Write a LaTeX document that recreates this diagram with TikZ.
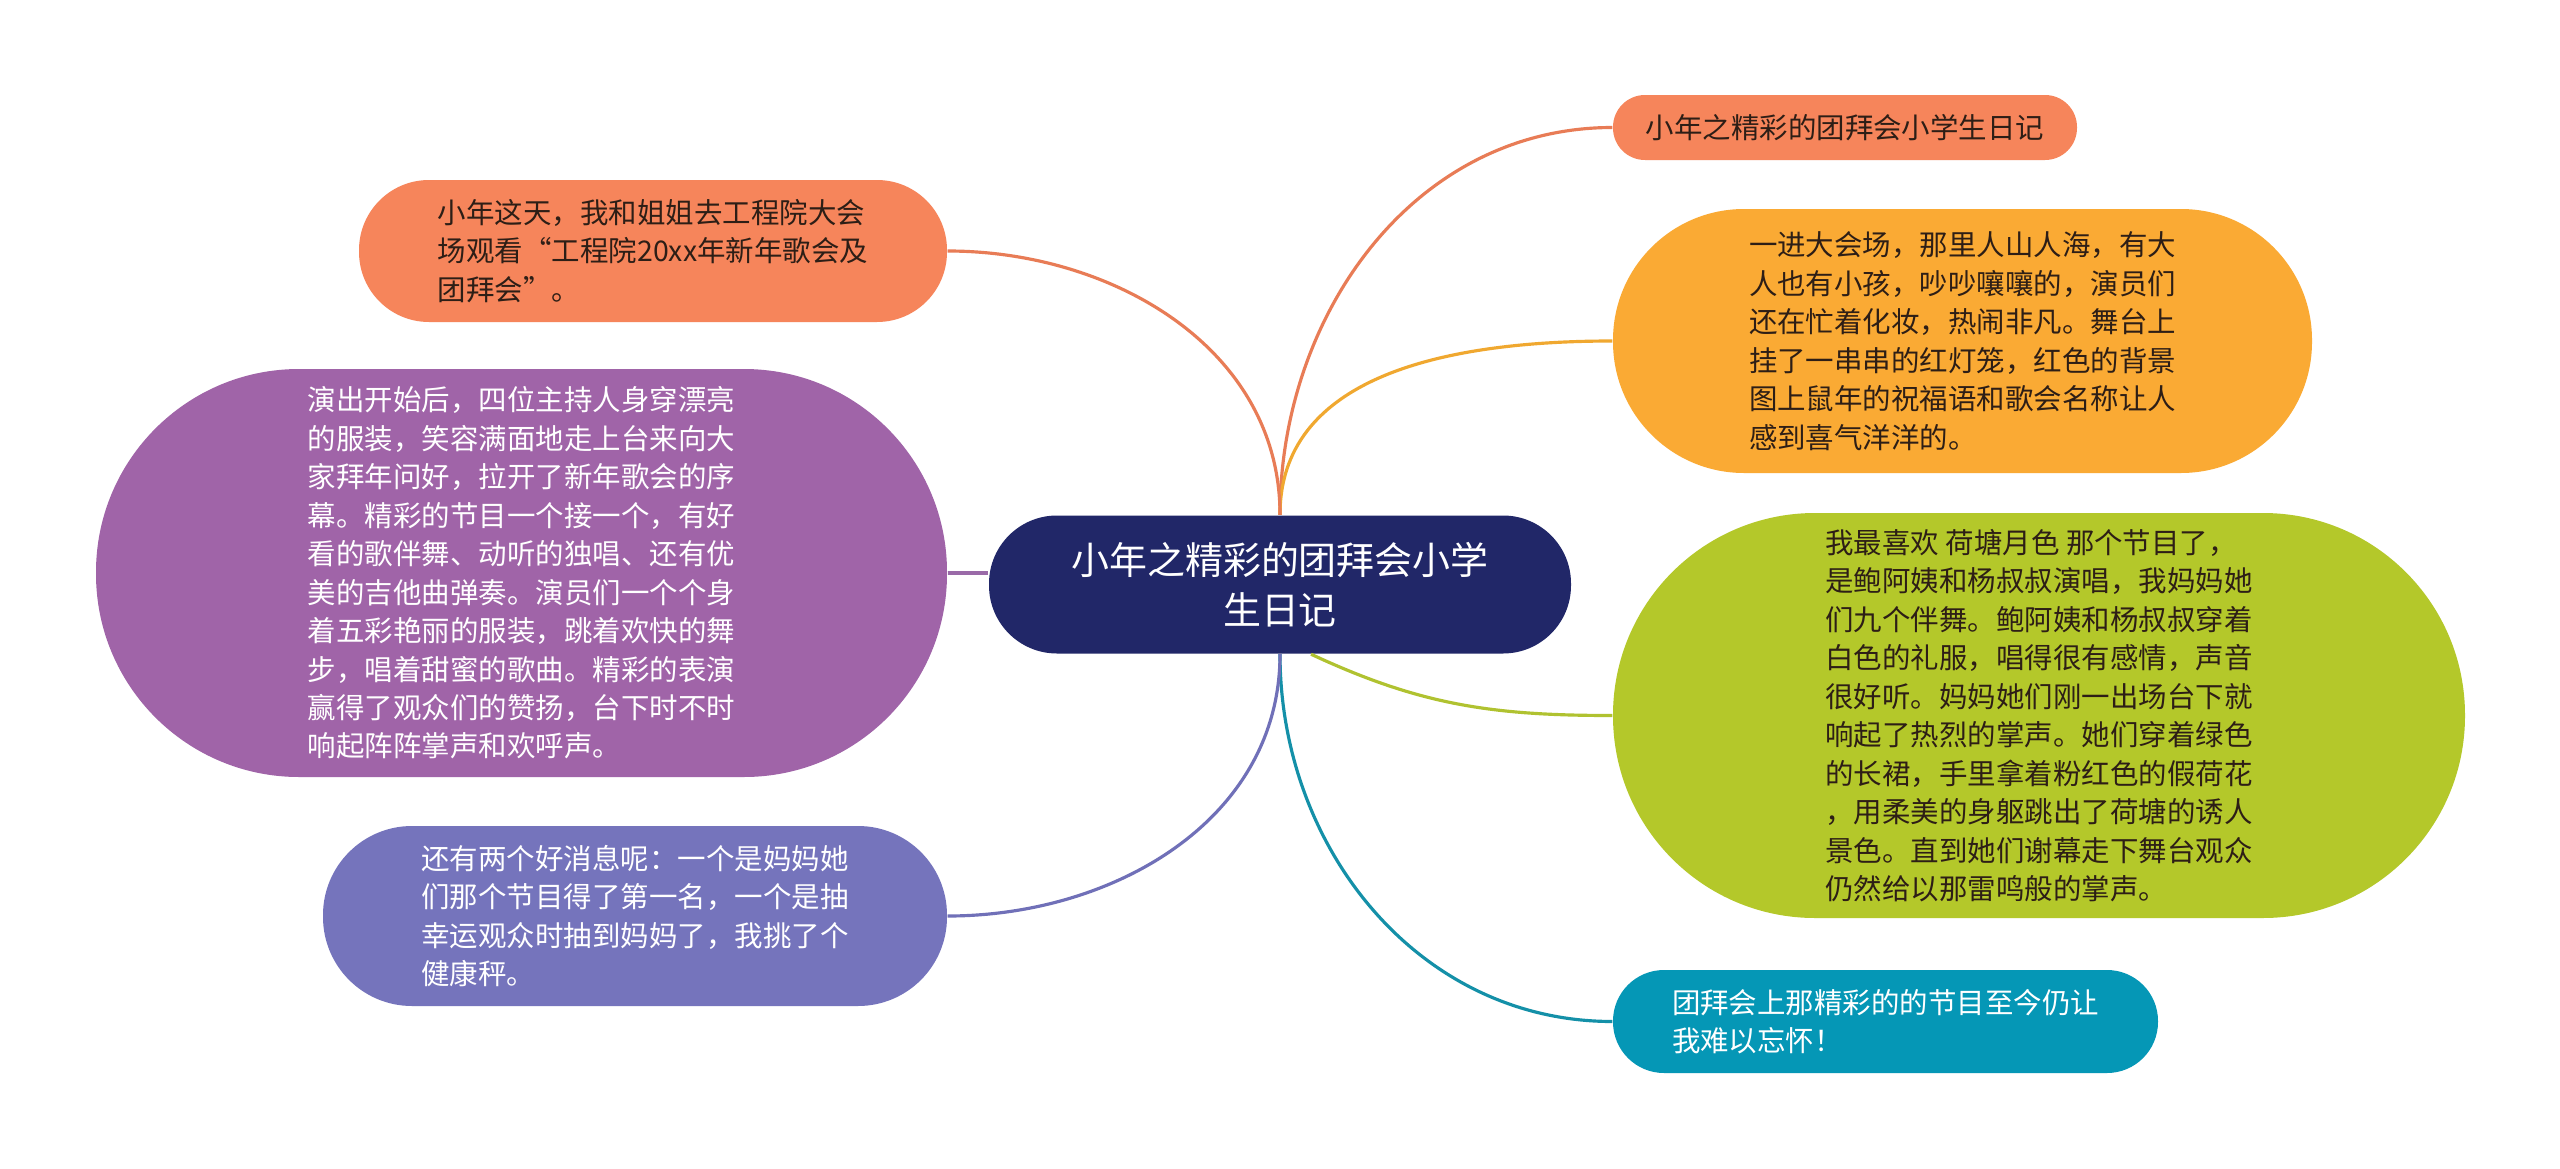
\documentclass[tikz,border=0pt]{standalone}
\usepackage{fontspec}
\setmainfont{Noto Sans CJK SC}
\usepackage{xcolor}
\definecolor{navy}{RGB}{33,39,104}
\definecolor{coral}{RGB}{246,133,91}
\definecolor{coralline}{RGB}{232,124,86}
\definecolor{amber}{RGB}{250,170,52}
\definecolor{amberline}{RGB}{240,168,48}
\definecolor{lime}{RGB}{180,200,42}
\definecolor{limeline}{RGB}{176,194,48}
\definecolor{sea}{RGB}{5,151,182}
\definecolor{sealine}{RGB}{20,144,168}
\definecolor{orchid}{RGB}{160,100,168}
\definecolor{orchidline}{RGB}{154,106,168}
\definecolor{slate}{RGB}{117,116,188}
\definecolor{slateline}{RGB}{112,112,184}
\definecolor{ink}{RGB}{45,30,22}
\tikzset{
  pill/.style n args={3}{minimum width=#1, minimum height=#2, rounded corners=#3, inner sep=0pt},
  body/.style={align=left, font=\fontsize{8.1pt}{10.95pt}\selectfont},
  link/.style={line width=0.9pt}
}

\begin{document}
\begin{tikzpicture}
  \fill[white] (0,0) rectangle (25.6,-11.69);
  \useasboundingbox (0,0) rectangle (25.6,-11.69);
  % root
  \node[pill={5.82cm}{1.38cm}{0.68cm}, fill=navy, text=white, align=center,
        font=\fontsize{10.8pt}{14.3pt}\selectfont] (root) at (12.80,-5.845)
        {小年之精彩的团拜会小学\\生日记};
  % right side
  \node[pill={4.64cm}{0.65cm}{0.32cm}, fill=coral, text=ink, body] (title) at (18.45,-1.275)
        {小年之精彩的团拜会小学生日记};
  \node[pill={6.99cm}{2.64cm}{1.31cm}, fill=amber, text=ink, body] (venue) at (19.625,-3.41)
        {一进大会场，那里人山人海，有大\\人也有小孩，吵吵嚷嚷的，演员们\\还在忙着化妆，热闹非凡。舞台上\\挂了一串串的红灯笼，红色的背景\\图上鼠年的祝福语和歌会名称让人\\感到喜气洋洋的。};
  \node[pill={8.52cm}{4.05cm}{2.02cm}, fill=lime, text=ink, body] (lotus) at (20.39,-7.155)
        {我最喜欢 荷塘月色 那个节目了，\\是鲍阿姨和杨叔叔演唱，我妈妈她\\们九个伴舞。鲍阿姨和杨叔叔穿着\\白色的礼服，唱得很有感情，声音\\很好听。妈妈她们刚一出场台下就\\响起了热烈的掌声。她们穿着绿色\\的长裙，手里拿着粉红色的假荷花\\，用柔美的身躯跳出了荷塘的诱人\\景色。直到她们谢幕走下舞台观众\\仍然给以那雷鸣般的掌声。};
  \node[pill={5.45cm}{1.03cm}{0.51cm}, fill=sea, text=white, body] (memory) at (18.855,-10.215)
        {团拜会上那精彩的的节目至今仍让\\我难以忘怀！};
  % left side
  \node[pill={5.88cm}{1.42cm}{0.70cm}, fill=coral, text=ink, body] (opening) at (6.53,-2.51)
        {小年这天，我和姐姐去工程院大会\\场观看“工程院20xx年新年歌会及\\团拜会”。};
  \node[pill={8.51cm}{4.08cm}{2.03cm}, fill=orchid, text=white, body] (show) at (5.215,-5.73)
        {演出开始后，四位主持人身穿漂亮\\的服装，笑容满面地走上台来向大\\家拜年问好，拉开了新年歌会的序\\幕。精彩的节目一个接一个，有好\\看的歌伴舞、动听的独唱、还有优\\美的吉他曲弹奏。演员们一个个身\\着五彩艳丽的服装，跳着欢快的舞\\步，唱着甜蜜的歌曲。精彩的表演\\赢得了观众们的赞扬，台下时不时\\响起阵阵掌声和欢呼声。};
  \node[pill={6.24cm}{1.80cm}{0.89cm}, fill=slate, text=white, body] (news) at (6.35,-9.16)
        {还有两个好消息呢：一个是妈妈她\\们那个节目得了第一名，一个是抽\\幸运观众时抽到妈妈了，我挑了个\\健康秤。};
  % links
  \draw[link, coralline] (root.north) to[out=90, in=180] (title.west);
  \draw[link, amberline] (root.north) to[out=90, in=180] (venue.west);
  \draw[link, limeline] (root.-66) to[out=-25, in=180] (lotus.west);
  \draw[link, sealine] (root.south) to[out=-90, in=180] (memory.west);
  \draw[link, coralline] (root.north) to[out=90, in=0] (opening.east);
  \draw[link, orchidline] (show.east) -- (show.east -| root.west);
  \draw[link, slateline] (root.south) to[out=-90, in=0] (news.east);
\end{tikzpicture}
\end{document}
